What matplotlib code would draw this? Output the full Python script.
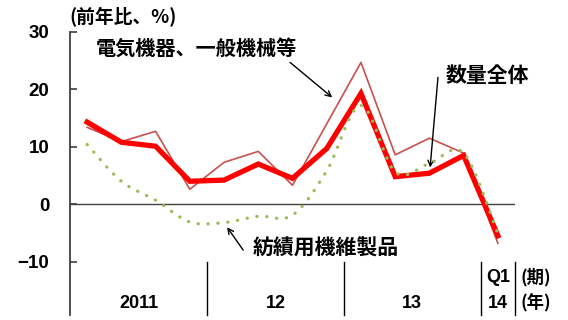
import numpy as np
import matplotlib
matplotlib.use("Agg")
import matplotlib.pyplot as plt
from matplotlib.path import Path
from matplotlib.patches import PathPatch

plt.rcParams['font.family'] = ['Noto Sans CJK JP', 'DejaVu Sans']
plt.rcParams['font.weight'] = 'bold'

# --------------------------------------------------
# Data: year-on-year change (%), 2011 Q1 .. 2014 Q1
# --------------------------------------------------
quarters = np.arange(13)
total = [14.3, 10.8, 10.1, 4.0, 4.2, 7.0, 4.5, 9.7, 19.3, 4.8, 5.4, 8.5, -5.5]
machinery = [13.4, 10.9, 12.7, 2.6, 7.3, 9.2, 3.3, 14.0, 24.7, 8.6, 11.5, 8.9, -6.8]
textiles = [10.4, 4.0, 0.7, -3.1, -3.2, -2.1, -1.9, 5.8, 17.2, 5.6, 7.1, 8.9, -5.1]

yticks = [-10, 0, 10, 20, 30]
year_labels = ["2011", "12", "13"]
year_centers = [1.5, 5.5, 9.5]
year_edges = [3.5, 7.5, 11.5, 12.5]

RED = "#FF0000"
THIN_RED = "#C8504D"
GREEN = "#9BBB59"
AXIS_GRAY = "#404040"
YMIN = -19.3
NUM_FONT = ['Liberation Sans', 'DejaVu Sans']


def smooth_path(x, y):
    """Bezier path through the points, like a spreadsheet 'smoothed line'."""
    pts = np.column_stack([x, y]).astype(float)
    verts = [pts[0]]
    codes = [Path.MOVETO]
    n = len(pts)
    for i in range(n - 1):
        p0 = pts[i - 1] if i > 0 else pts[i]
        p1 = pts[i]
        p2 = pts[i + 1]
        p3 = pts[i + 2] if i + 2 < n else pts[i + 1]
        c1 = p1 + (p2 - p0) / 6.0
        c2 = p2 - (p3 - p1) / 6.0
        verts += [c1, c2, p2]
        codes += [Path.CURVE4] * 3
    return Path(verts, codes)


fig = plt.figure(figsize=(5.68, 3.2), dpi=100)
ax = fig.add_axes([70 / 568, 1 - 315 / 320, 445 / 568, 283 / 320])

# series
ax.plot(quarters, machinery, color=THIN_RED, lw=1.2, zorder=3)
ax.plot(quarters, total, color=RED, lw=3.8, solid_joinstyle='miter', zorder=4)
ax.add_patch(PathPatch(smooth_path(quarters, textiles), fill=False,
                       edgecolor=GREEN, lw=2.3, linestyle=(0, (0.1, 3.0)),
                       capstyle='round', zorder=5))

# zero line
ax.axhline(0, color=AXIS_GRAY, lw=1.0, zorder=2)

# axes
ax.set_xlim(-0.5, 12.5)
ax.set_ylim(YMIN, 30)
for s in ["top", "right", "bottom"]:
    ax.spines[s].set_visible(False)
ax.spines["left"].set_color(AXIS_GRAY)
ax.spines["left"].set_linewidth(1.3)
ax.spines["left"].set_bounds(YMIN, 30)
ax.set_xticks([])
ax.set_yticks(yticks)
ax.tick_params(axis='y', direction='in', length=5, width=1.2,
               color=AXIS_GRAY, labelsize=13.5, pad=15)
for lab in ax.get_yticklabels():
    lab.set_fontweight('bold')
    lab.set_fontfamily(NUM_FONT)

# category axis: year dividers and labels
for xe in year_edges:
    ax.plot([xe, xe], [-10, YMIN], color="black", lw=1.0, clip_on=False)
for xc, lab in zip(year_centers, year_labels):
    ax.text(xc, -17.3, lab, ha='center', va='center', fontsize=13,
            fontweight='bold', family=NUM_FONT)
ax.text(12, -12.7, "Q1", ha='center', va='center', fontsize=13,
        fontweight='bold', family=NUM_FONT)
ax.text(12, -17.3, "14", ha='center', va='center', fontsize=13,
        fontweight='bold', family=NUM_FONT)
ax.text(13.1, -12.7, "(期)", ha='center', va='center', fontsize=12.5,
        fontweight='bold', clip_on=False)
ax.text(13.1, -17.3, "(年)", ha='center', va='center', fontsize=12.5,
        fontweight='bold', clip_on=False)

# unit label
fig.text(123 / 568, 1 - 17 / 320, "(前年比、%)", ha='center', va='center',
         fontsize=13.5, fontweight='bold')

# series labels with arrows
arrow = dict(arrowstyle='->', color='black', lw=1.0, shrinkA=0, shrinkB=0)
ax.text(3.2, 27.1, "電気機器、一般機械等", ha='center', va='center',
        fontsize=14.5, fontweight='bold')
ax.annotate("", xy=(7.16, 18.6), xytext=(5.93, 24.7), arrowprops=arrow)

ax.text(11.69, 22.4, "数量全体", ha='center', va='center',
        fontsize=15, fontweight='bold')
ax.annotate("", xy=(10.02, 6.4), xytext=(10.25, 22.1), arrowprops=arrow)

ax.text(6.98, -7.65, "紡績用機維製品", ha='center', va='center',
        fontsize=15, fontweight='bold')
ax.annotate("", xy=(4.09, -4.0), xytext=(4.56, -8.0), arrowprops=arrow)

fig.savefig("out.png", dpi=100)
